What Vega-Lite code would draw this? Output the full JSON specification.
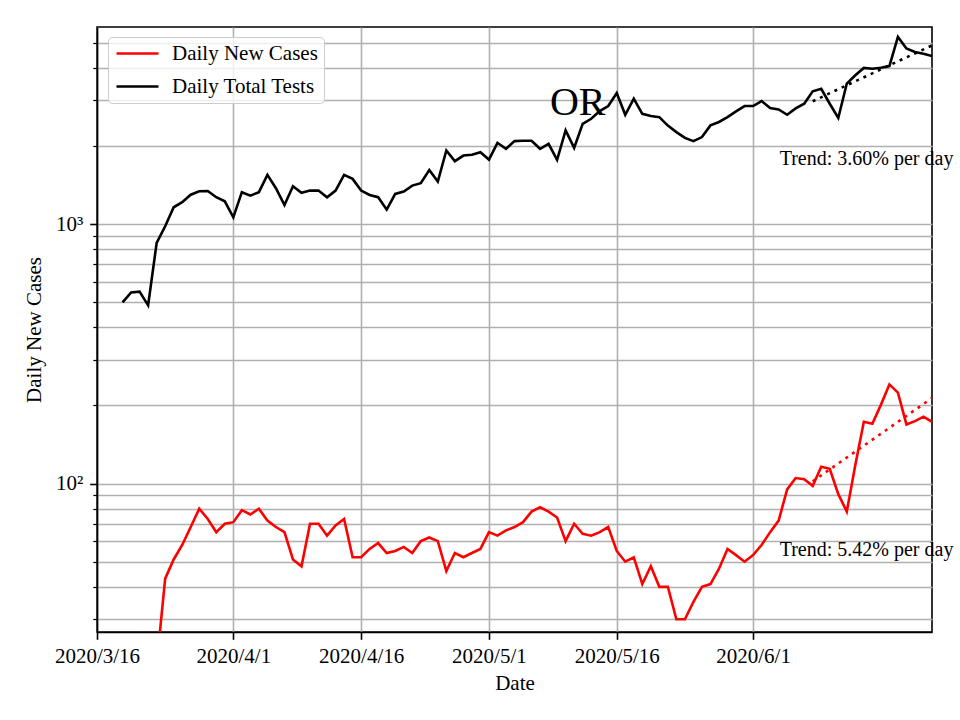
{
  "$schema": "https://vega.github.io/schema/vega-lite/v6.json",
  "width": 835,
  "height": 605,
  "autosize": {"type": "none"},
  "padding": {"left": 97, "top": 27, "right": 28, "bottom": 88},
  "background": "white",
  "config": {
    "font": "Liberation Serif",
    "view": {"stroke": "black", "strokeWidth": 1.6},
    "axis": {
      "labelFont": "Liberation Serif",
      "titleFont": "Liberation Serif",
      "labelFontSize": 21,
      "titleFontSize": 21,
      "titleFontWeight": "normal",
      "labelColor": "black",
      "titleColor": "black",
      "domainColor": "black",
      "domainWidth": 1.6,
      "tickColor": "black",
      "gridColor": "#b0b0b0",
      "gridWidth": 1.6,
      "gridOpacity": 1
    }
  },
  "datasets": {
    "daily": [
      {"date": "2020-03-19", "series": "Daily Total Tests", "value": 499},
      {"date": "2020-03-20", "series": "Daily Total Tests", "value": 545},
      {"date": "2020-03-21", "series": "Daily Total Tests", "value": 549},
      {"date": "2020-03-22", "series": "Daily Total Tests", "value": 486},
      {"date": "2020-03-23", "series": "Daily Total Tests", "value": 845},
      {"date": "2020-03-24", "series": "Daily Total Tests", "value": 980},
      {"date": "2020-03-25", "series": "Daily Total Tests", "value": 1160},
      {"date": "2020-03-26", "series": "Daily Total Tests", "value": 1213},
      {"date": "2020-03-27", "series": "Daily Total Tests", "value": 1297},
      {"date": "2020-03-28", "series": "Daily Total Tests", "value": 1337},
      {"date": "2020-03-29", "series": "Daily Total Tests", "value": 1340},
      {"date": "2020-03-30", "series": "Daily Total Tests", "value": 1268},
      {"date": "2020-03-31", "series": "Daily Total Tests", "value": 1223},
      {"date": "2020-04-01", "series": "Daily Total Tests", "value": 1061},
      {"date": "2020-04-02", "series": "Daily Total Tests", "value": 1326},
      {"date": "2020-04-03", "series": "Daily Total Tests", "value": 1286},
      {"date": "2020-04-04", "series": "Daily Total Tests", "value": 1326},
      {"date": "2020-04-05", "series": "Daily Total Tests", "value": 1546},
      {"date": "2020-04-06", "series": "Daily Total Tests", "value": 1374},
      {"date": "2020-04-07", "series": "Daily Total Tests", "value": 1184},
      {"date": "2020-04-08", "series": "Daily Total Tests", "value": 1398},
      {"date": "2020-04-09", "series": "Daily Total Tests", "value": 1318},
      {"date": "2020-04-10", "series": "Daily Total Tests", "value": 1345},
      {"date": "2020-04-11", "series": "Daily Total Tests", "value": 1345},
      {"date": "2020-04-12", "series": "Daily Total Tests", "value": 1268},
      {"date": "2020-04-13", "series": "Daily Total Tests", "value": 1345},
      {"date": "2020-04-14", "series": "Daily Total Tests", "value": 1546},
      {"date": "2020-04-15", "series": "Daily Total Tests", "value": 1492},
      {"date": "2020-04-16", "series": "Daily Total Tests", "value": 1345},
      {"date": "2020-04-17", "series": "Daily Total Tests", "value": 1294},
      {"date": "2020-04-18", "series": "Daily Total Tests", "value": 1268},
      {"date": "2020-04-19", "series": "Daily Total Tests", "value": 1136},
      {"date": "2020-04-20", "series": "Daily Total Tests", "value": 1306},
      {"date": "2020-04-21", "series": "Daily Total Tests", "value": 1333},
      {"date": "2020-04-22", "series": "Daily Total Tests", "value": 1406},
      {"date": "2020-04-23", "series": "Daily Total Tests", "value": 1436},
      {"date": "2020-04-24", "series": "Daily Total Tests", "value": 1615},
      {"date": "2020-04-25", "series": "Daily Total Tests", "value": 1457},
      {"date": "2020-04-26", "series": "Daily Total Tests", "value": 1919},
      {"date": "2020-04-27", "series": "Daily Total Tests", "value": 1746},
      {"date": "2020-04-28", "series": "Daily Total Tests", "value": 1835},
      {"date": "2020-04-29", "series": "Daily Total Tests", "value": 1847},
      {"date": "2020-04-30", "series": "Daily Total Tests", "value": 1891},
      {"date": "2020-05-01", "series": "Daily Total Tests", "value": 1771},
      {"date": "2020-05-02", "series": "Daily Total Tests", "value": 2055},
      {"date": "2020-05-03", "series": "Daily Total Tests", "value": 1949},
      {"date": "2020-05-04", "series": "Daily Total Tests", "value": 2086},
      {"date": "2020-05-05", "series": "Daily Total Tests", "value": 2094},
      {"date": "2020-05-06", "series": "Daily Total Tests", "value": 2094},
      {"date": "2020-05-07", "series": "Daily Total Tests", "value": 1949},
      {"date": "2020-05-08", "series": "Daily Total Tests", "value": 2036},
      {"date": "2020-05-09", "series": "Daily Total Tests", "value": 1766},
      {"date": "2020-05-10", "series": "Daily Total Tests", "value": 2293},
      {"date": "2020-05-11", "series": "Daily Total Tests", "value": 1964},
      {"date": "2020-05-12", "series": "Daily Total Tests", "value": 2433},
      {"date": "2020-05-13", "series": "Daily Total Tests", "value": 2544},
      {"date": "2020-05-14", "series": "Daily Total Tests", "value": 2722},
      {"date": "2020-05-15", "series": "Daily Total Tests", "value": 2847},
      {"date": "2020-05-16", "series": "Daily Total Tests", "value": 3198},
      {"date": "2020-05-17", "series": "Daily Total Tests", "value": 2635},
      {"date": "2020-05-18", "series": "Daily Total Tests", "value": 3041},
      {"date": "2020-05-19", "series": "Daily Total Tests", "value": 2659},
      {"date": "2020-05-20", "series": "Daily Total Tests", "value": 2605},
      {"date": "2020-05-21", "series": "Daily Total Tests", "value": 2581},
      {"date": "2020-05-22", "series": "Daily Total Tests", "value": 2395},
      {"date": "2020-05-23", "series": "Daily Total Tests", "value": 2259},
      {"date": "2020-05-24", "series": "Daily Total Tests", "value": 2147},
      {"date": "2020-05-25", "series": "Daily Total Tests", "value": 2086},
      {"date": "2020-05-26", "series": "Daily Total Tests", "value": 2162},
      {"date": "2020-05-27", "series": "Daily Total Tests", "value": 2398},
      {"date": "2020-05-28", "series": "Daily Total Tests", "value": 2472},
      {"date": "2020-05-29", "series": "Daily Total Tests", "value": 2583},
      {"date": "2020-05-30", "series": "Daily Total Tests", "value": 2715},
      {"date": "2020-05-31", "series": "Daily Total Tests", "value": 2847},
      {"date": "2020-06-01", "series": "Daily Total Tests", "value": 2847},
      {"date": "2020-06-02", "series": "Daily Total Tests", "value": 2977},
      {"date": "2020-06-03", "series": "Daily Total Tests", "value": 2799},
      {"date": "2020-06-04", "series": "Daily Total Tests", "value": 2763},
      {"date": "2020-06-05", "series": "Daily Total Tests", "value": 2635},
      {"date": "2020-06-06", "series": "Daily Total Tests", "value": 2790},
      {"date": "2020-06-07", "series": "Daily Total Tests", "value": 2906},
      {"date": "2020-06-08", "series": "Daily Total Tests", "value": 3247},
      {"date": "2020-06-09", "series": "Daily Total Tests", "value": 3320},
      {"date": "2020-06-10", "series": "Daily Total Tests", "value": 2906},
      {"date": "2020-06-11", "series": "Daily Total Tests", "value": 2562},
      {"date": "2020-06-12", "series": "Daily Total Tests", "value": 3476},
      {"date": "2020-06-13", "series": "Daily Total Tests", "value": 3742},
      {"date": "2020-06-14", "series": "Daily Total Tests", "value": 3993},
      {"date": "2020-06-15", "series": "Daily Total Tests", "value": 3966},
      {"date": "2020-06-16", "series": "Daily Total Tests", "value": 4000},
      {"date": "2020-06-17", "series": "Daily Total Tests", "value": 4060},
      {"date": "2020-06-18", "series": "Daily Total Tests", "value": 5260},
      {"date": "2020-06-19", "series": "Daily Total Tests", "value": 4743},
      {"date": "2020-06-20", "series": "Daily Total Tests", "value": 4602},
      {"date": "2020-06-21", "series": "Daily Total Tests", "value": 4532},
      {"date": "2020-06-22", "series": "Daily Total Tests", "value": 4438},
      {"date": "2020-03-23", "series": "Daily New Cases", "value": 20},
      {"date": "2020-03-24", "series": "Daily New Cases", "value": 43},
      {"date": "2020-03-25", "series": "Daily New Cases", "value": 51},
      {"date": "2020-03-26", "series": "Daily New Cases", "value": 58},
      {"date": "2020-03-27", "series": "Daily New Cases", "value": 68},
      {"date": "2020-03-28", "series": "Daily New Cases", "value": 80},
      {"date": "2020-03-29", "series": "Daily New Cases", "value": 73},
      {"date": "2020-03-30", "series": "Daily New Cases", "value": 65},
      {"date": "2020-03-31", "series": "Daily New Cases", "value": 70},
      {"date": "2020-04-01", "series": "Daily New Cases", "value": 71},
      {"date": "2020-04-02", "series": "Daily New Cases", "value": 79},
      {"date": "2020-04-03", "series": "Daily New Cases", "value": 76},
      {"date": "2020-04-04", "series": "Daily New Cases", "value": 80},
      {"date": "2020-04-05", "series": "Daily New Cases", "value": 72},
      {"date": "2020-04-06", "series": "Daily New Cases", "value": 68},
      {"date": "2020-04-07", "series": "Daily New Cases", "value": 65},
      {"date": "2020-04-08", "series": "Daily New Cases", "value": 51},
      {"date": "2020-04-09", "series": "Daily New Cases", "value": 48},
      {"date": "2020-04-10", "series": "Daily New Cases", "value": 70},
      {"date": "2020-04-11", "series": "Daily New Cases", "value": 70},
      {"date": "2020-04-12", "series": "Daily New Cases", "value": 63},
      {"date": "2020-04-13", "series": "Daily New Cases", "value": 69},
      {"date": "2020-04-14", "series": "Daily New Cases", "value": 73},
      {"date": "2020-04-15", "series": "Daily New Cases", "value": 52},
      {"date": "2020-04-16", "series": "Daily New Cases", "value": 52},
      {"date": "2020-04-17", "series": "Daily New Cases", "value": 56},
      {"date": "2020-04-18", "series": "Daily New Cases", "value": 59},
      {"date": "2020-04-19", "series": "Daily New Cases", "value": 54},
      {"date": "2020-04-20", "series": "Daily New Cases", "value": 55},
      {"date": "2020-04-21", "series": "Daily New Cases", "value": 57},
      {"date": "2020-04-22", "series": "Daily New Cases", "value": 54},
      {"date": "2020-04-23", "series": "Daily New Cases", "value": 60},
      {"date": "2020-04-24", "series": "Daily New Cases", "value": 62},
      {"date": "2020-04-25", "series": "Daily New Cases", "value": 60},
      {"date": "2020-04-26", "series": "Daily New Cases", "value": 46},
      {"date": "2020-04-27", "series": "Daily New Cases", "value": 54},
      {"date": "2020-04-28", "series": "Daily New Cases", "value": 52},
      {"date": "2020-04-29", "series": "Daily New Cases", "value": 54},
      {"date": "2020-04-30", "series": "Daily New Cases", "value": 56},
      {"date": "2020-05-01", "series": "Daily New Cases", "value": 65},
      {"date": "2020-05-02", "series": "Daily New Cases", "value": 63},
      {"date": "2020-05-03", "series": "Daily New Cases", "value": 66},
      {"date": "2020-05-04", "series": "Daily New Cases", "value": 68},
      {"date": "2020-05-05", "series": "Daily New Cases", "value": 71},
      {"date": "2020-05-06", "series": "Daily New Cases", "value": 78},
      {"date": "2020-05-07", "series": "Daily New Cases", "value": 81},
      {"date": "2020-05-08", "series": "Daily New Cases", "value": 78},
      {"date": "2020-05-09", "series": "Daily New Cases", "value": 74},
      {"date": "2020-05-10", "series": "Daily New Cases", "value": 60},
      {"date": "2020-05-11", "series": "Daily New Cases", "value": 70},
      {"date": "2020-05-12", "series": "Daily New Cases", "value": 64},
      {"date": "2020-05-13", "series": "Daily New Cases", "value": 63},
      {"date": "2020-05-14", "series": "Daily New Cases", "value": 65},
      {"date": "2020-05-15", "series": "Daily New Cases", "value": 68},
      {"date": "2020-05-16", "series": "Daily New Cases", "value": 55},
      {"date": "2020-05-17", "series": "Daily New Cases", "value": 50},
      {"date": "2020-05-18", "series": "Daily New Cases", "value": 52},
      {"date": "2020-05-19", "series": "Daily New Cases", "value": 41},
      {"date": "2020-05-20", "series": "Daily New Cases", "value": 48},
      {"date": "2020-05-21", "series": "Daily New Cases", "value": 40},
      {"date": "2020-05-22", "series": "Daily New Cases", "value": 40},
      {"date": "2020-05-23", "series": "Daily New Cases", "value": 30},
      {"date": "2020-05-24", "series": "Daily New Cases", "value": 30},
      {"date": "2020-05-25", "series": "Daily New Cases", "value": 35},
      {"date": "2020-05-26", "series": "Daily New Cases", "value": 40},
      {"date": "2020-05-27", "series": "Daily New Cases", "value": 41},
      {"date": "2020-05-28", "series": "Daily New Cases", "value": 47},
      {"date": "2020-05-29", "series": "Daily New Cases", "value": 56},
      {"date": "2020-05-30", "series": "Daily New Cases", "value": 53},
      {"date": "2020-05-31", "series": "Daily New Cases", "value": 50},
      {"date": "2020-06-01", "series": "Daily New Cases", "value": 53},
      {"date": "2020-06-02", "series": "Daily New Cases", "value": 58},
      {"date": "2020-06-03", "series": "Daily New Cases", "value": 65},
      {"date": "2020-06-04", "series": "Daily New Cases", "value": 72},
      {"date": "2020-06-05", "series": "Daily New Cases", "value": 95},
      {"date": "2020-06-06", "series": "Daily New Cases", "value": 105},
      {"date": "2020-06-07", "series": "Daily New Cases", "value": 104},
      {"date": "2020-06-08", "series": "Daily New Cases", "value": 98},
      {"date": "2020-06-09", "series": "Daily New Cases", "value": 116},
      {"date": "2020-06-10", "series": "Daily New Cases", "value": 114},
      {"date": "2020-06-11", "series": "Daily New Cases", "value": 91},
      {"date": "2020-06-12", "series": "Daily New Cases", "value": 78},
      {"date": "2020-06-13", "series": "Daily New Cases", "value": 118},
      {"date": "2020-06-14", "series": "Daily New Cases", "value": 173},
      {"date": "2020-06-15", "series": "Daily New Cases", "value": 170},
      {"date": "2020-06-16", "series": "Daily New Cases", "value": 201},
      {"date": "2020-06-17", "series": "Daily New Cases", "value": 241},
      {"date": "2020-06-18", "series": "Daily New Cases", "value": 224},
      {"date": "2020-06-19", "series": "Daily New Cases", "value": 169},
      {"date": "2020-06-20", "series": "Daily New Cases", "value": 174},
      {"date": "2020-06-21", "series": "Daily New Cases", "value": 181},
      {"date": "2020-06-22", "series": "Daily New Cases", "value": 173}
    ],
    "trendTests": [
      {"date": "2020-06-08", "value": 2972},
      {"date": "2020-06-22", "value": 4876}
    ],
    "trendCases": [
      {"date": "2020-06-08", "value": 102},
      {"date": "2020-06-22", "value": 213.5}
    ],
    "stateLabel": [
      {"date": "2020-05-11T10:00:00Z", "value": 2636, "label": "OR"}
    ],
    "trendLabels": [
      {"date": "2020-06-04T03:00:00Z", "value": 1694, "label": "Trend: 3.60% per day"},
      {"date": "2020-06-04T03:00:00Z", "value": 52.8, "label": "Trend: 5.42% per day"}
    ]
  },
  "encoding": {
    "x": {
      "field": "date",
      "type": "temporal",
      "scale": {
        "type": "utc",
        "domain": [
          {"year": 2020, "month": 3, "date": 16, "utc": true},
          {"year": 2020, "month": 6, "date": 22, "utc": true}
        ]
      },
      "axis": {
        "title": "Date",
        "values": [
          {"year": 2020, "month": 3, "date": 16, "utc": true},
          {"year": 2020, "month": 4, "date": 1, "utc": true},
          {"year": 2020, "month": 4, "date": 16, "utc": true},
          {"year": 2020, "month": 5, "date": 1, "utc": true},
          {"year": 2020, "month": 5, "date": 16, "utc": true},
          {"year": 2020, "month": 6, "date": 1, "utc": true}
        ],
        "labelExpr": "utcFormat(datum.value, '%Y/%-m/%-d')",
        "grid": true,
        "tickSize": 7.3,
        "tickWidth": 1.6,
        "labelPadding": 6,
        "titlePadding": 6,
        "labelFlush": false,
        "labelOverlap": false
      }
    },
    "y": {
      "field": "value",
      "type": "quantitative",
      "scale": {"type": "log", "domain": [26.8, 5741], "nice": false, "zero": false},
      "axis": {
        "title": "Daily New Cases",
        "values": [30, 40, 50, 60, 70, 80, 90, 100, 200, 300, 400, 500, 600, 700, 800, 900, 1000, 2000, 3000, 4000, 5000],
        "labelExpr": "datum.value == 100 ? '10²' : (datum.value == 1000 ? '10³' : '')",
        "grid": true,
        "tickSize": {"condition": {"test": "datum.value == 100 || datum.value == 1000", "value": 7.3}, "value": 4.2},
        "tickWidth": {"condition": {"test": "datum.value == 100 || datum.value == 1000", "value": 1.6}, "value": 1.2},
        "labelPadding": 7,
        "titlePadding": 11,
        "labelOverlap": false
      }
    }
  },
  "layer": [
    {
      "data": {"name": "daily"},
      "mark": {"type": "line", "strokeWidth": 2.6, "clip": true},
      "encoding": {
        "color": {
          "field": "series",
          "type": "nominal",
          "scale": {"domain": ["Daily New Cases", "Daily Total Tests"], "range": ["#ff0000", "#000000"]},
          "legend": {
            "orient": "none",
            "legendX": 11,
            "legendY": 10,
            "title": null,
            "symbolType": "M-2.333,0H2.333",
            "symbolSize": 324,
            "symbolOffset": 13,
            "symbolStrokeWidth": 2.6,
            "labelFont": "Liberation Serif",
            "labelFontSize": 21,
            "labelColor": "black",
            "labelOffset": 24,
            "labelLimit": 400,
            "fillColor": "rgba(255,255,255,0.8)",
            "strokeColor": "#cccccc",
            "cornerRadius": 4,
            "padding": 6,
            "rowPadding": 11
          }
        }
      }
    },
    {
      "data": {"name": "trendTests"},
      "mark": {"type": "line", "color": "black", "strokeWidth": 2.6, "strokeDash": [3, 5], "clip": true}
    },
    {
      "data": {"name": "trendCases"},
      "mark": {"type": "line", "color": "#ff0000", "strokeWidth": 2.6, "strokeDash": [3, 5], "clip": true}
    },
    {
      "data": {"name": "stateLabel"},
      "mark": {"type": "text", "font": "Liberation Serif", "fontSize": 40, "align": "center", "baseline": "alphabetic", "color": "black"},
      "encoding": {"text": {"field": "label"}}
    },
    {
      "data": {"name": "trendLabels"},
      "mark": {"type": "text", "font": "Liberation Serif", "fontSize": 20, "align": "left", "baseline": "alphabetic", "color": "black"},
      "encoding": {"text": {"field": "label"}}
    }
  ]
}
